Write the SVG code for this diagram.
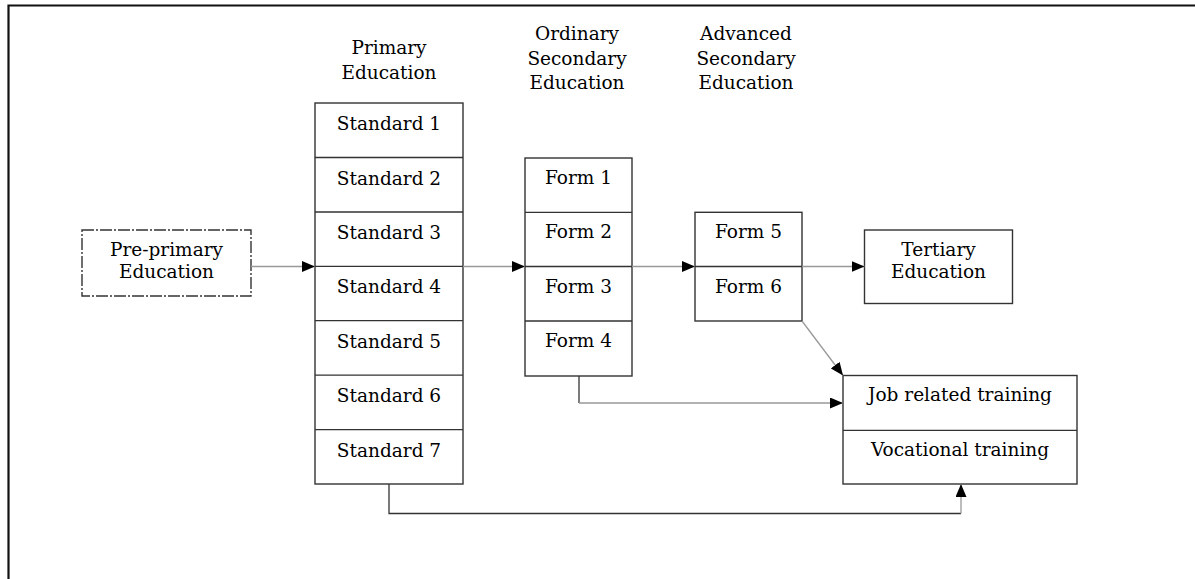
<svg xmlns="http://www.w3.org/2000/svg" width="1195" height="579" viewBox="0 0 1195 579">
<defs>
<marker id="ah" viewBox="0 0 13 11" refX="13" refY="5.5" markerWidth="13" markerHeight="11" markerUnits="userSpaceOnUse" orient="auto">
<path d="M0,0 L13,5.5 L0,11 Z" fill="#000"/>
</marker>
<style>
.t{font-family:"DejaVu Serif","Liberation Serif",serif;font-size:18.5px;fill:#000;text-anchor:middle}
.b{fill:#fff;stroke:#333;stroke-width:1.4}
.c{fill:none;stroke:#999;stroke-width:1.3;marker-end:url(#ah)}
.c2{fill:none;stroke:#333;stroke-width:1.3}
</style>
</defs>
<rect width="1195" height="579" fill="#fff"/>
<path d="M8.5,600 V5.5 H1200" fill="none" stroke="#111" stroke-width="2.2"/>

<g id="headers">
<text class="t" x="389" y="54">Primary</text>
<text class="t" x="389" y="79">Education</text>
<text class="t" x="577" y="40">Ordinary</text>
<text class="t" x="577" y="65">Secondary</text>
<text class="t" x="577" y="89">Education</text>
<text class="t" x="746" y="40">Advanced</text>
<text class="t" x="746" y="65">Secondary</text>
<text class="t" x="746" y="89">Education</text>
</g>

<g id="pre-primary">
<rect x="82" y="230" width="169" height="66" fill="#fff" stroke="#333" stroke-width="1.4" stroke-dasharray="12,2,2,2"/>
<text class="t" x="166.5" y="256">Pre-primary</text>
<text class="t" x="166.5" y="278">Education</text>
</g>

<g id="primary">
<rect class="b" x="315" y="103" width="148" height="381"/>
<path class="c2" d="M315,157.5 H463 M315,212 H463 M315,266.3 H463 M315,320.7 H463 M315,375.2 H463 M315,429.6 H463"/>
<text class="t" x="389" y="130">Standard 1</text>
<text class="t" x="389" y="184.5">Standard 2</text>
<text class="t" x="389" y="239">Standard 3</text>
<text class="t" x="389" y="293.3">Standard 4</text>
<text class="t" x="389" y="347.7">Standard 5</text>
<text class="t" x="389" y="402.2">Standard 6</text>
<text class="t" x="389" y="456.6">Standard 7</text>
</g>

<g id="ordinary">
<rect class="b" x="525" y="158" width="107" height="218"/>
<path class="c2" d="M525,212.3 H632 M525,266.5 H632 M525,321 H632"/>
<text class="t" x="578.5" y="184">Form 1</text>
<text class="t" x="578.5" y="238.3">Form 2</text>
<text class="t" x="578.5" y="292.5">Form 3</text>
<text class="t" x="578.5" y="347">Form 4</text>
</g>

<g id="advanced">
<rect class="b" x="695" y="212.3" width="107" height="108.7"/>
<path class="c2" d="M695,266.5 H802"/>
<text class="t" x="748.5" y="238.3">Form 5</text>
<text class="t" x="748.5" y="292.5">Form 6</text>
</g>

<g id="tertiary">
<rect class="b" x="864.5" y="230" width="148" height="73.5"/>
<text class="t" x="938.5" y="256">Tertiary</text>
<text class="t" x="938.5" y="278">Education</text>
</g>

<g id="training">
<rect class="b" x="843" y="375.5" width="234" height="108.5"/>
<path class="c2" d="M843,430.3 H1077"/>
<text class="t" x="960" y="401">Job related training</text>
<text class="t" x="960" y="456">Vocational training</text>
</g>

<g id="connectors">
<path class="c" d="M251,266.5 H315"/>
<path class="c" d="M463,266.5 H525"/>
<path class="c" d="M632,266.5 H695"/>
<path class="c" d="M802,266.5 H864.5"/>
<path class="c" d="M802,321 L843,375.5"/>
<path class="c2" d="M579,376 V403"/>
<path class="c" d="M579,403 H843"/>
<path class="c2" d="M389,484 V513.5 H961"/>
<path class="c" d="M961,513.5 V484"/>
</g>
</svg>
